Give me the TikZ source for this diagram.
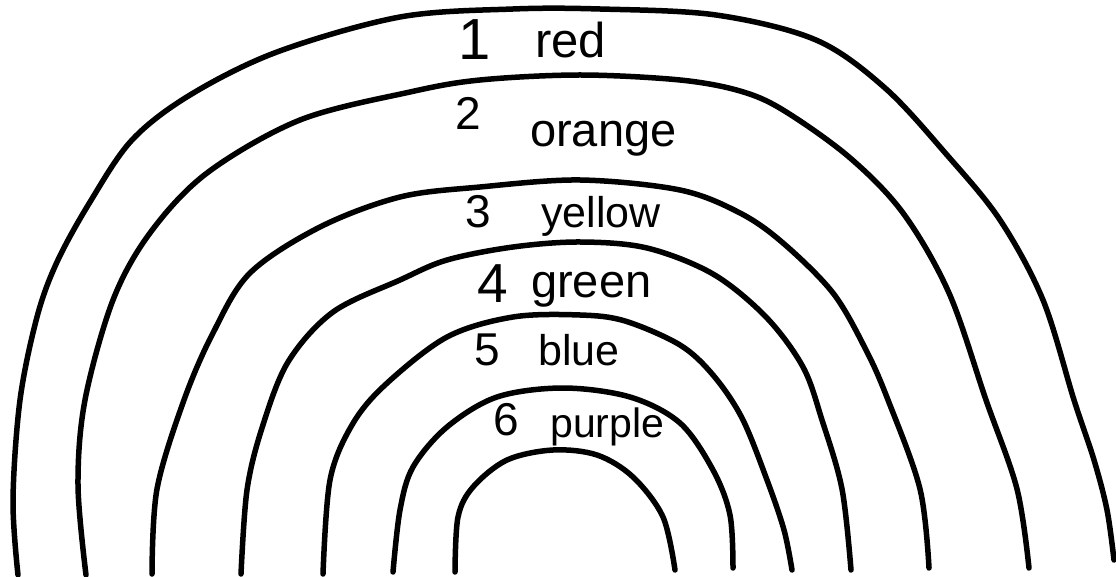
\documentclass[tikz,border=0pt]{standalone}
\usepackage{fontspec}
\setmainfont{Liberation Sans}
\begin{document}
\begin{tikzpicture}[x=1pt,y=-1pt,
  arcline/.style={line width=5.5pt, line cap=round, line join=round},
  lab/.style={anchor=base west, inner sep=0pt}]
\useasboundingbox (0,0) rectangle (1116,577);
% arc 1 (outermost)
\draw[arcline] plot[smooth, tension=0.55] coordinates {(18,575) (13,500) (20,400) (37,317) (57,262) (90,202) (132,140) (190,95) (277,52) (400,17) (513,9) (600,9) (716,15) (816,40) (885,88) (947,155) (1000,220) (1043,300) (1074,400) (1094,460) (1107,510) (1114,560)};
% arc 2
\draw[arcline] plot[smooth, tension=0.55] coordinates {(86,575) (78,485) (85,400) (113,300) (150,233) (207,173) (300,120) (410,92) (480,80) (580,75) (680,80) (740,91) (783,110) (849,157) (903,213) (949,293) (986,400) (1017,489) (1029,568)};
% arc 3
\draw[arcline] plot[smooth, tension=0.55] coordinates {(152,574) (157,489) (184,400) (213,333) (250,273) (320,227) (400,197) (480,187) (580,180) (680,190) (740,213) (783,243) (833,293) (866,350) (888,400) (920,489) (929,568)};
% arc 4
\draw[arcline] plot[smooth, tension=0.55] coordinates {(241,574) (247,490) (262,428) (288,362) (333,312) (400,280) (447,260) (513,247) (580,242) (647,248) (713,274) (766,317) (803,367) (822,420) (842,489) (851,570)};
% arc 5
\draw[arcline] plot[smooth, tension=0.55] coordinates {(323,574) (330,480) (352,425) (385,385) (447,337) (513,317) (580,315) (625,321) (680,345) (713,375) (742,418) (767,480) (784,530) (792,570)};
% arc 6
\draw[arcline] plot[smooth, tension=0.55] coordinates {(393,572) (400,510) (413,467) (447,427) (497,397) (563,388) (630,397) (680,423) (713,470) (730,515) (733,568)};
% arc 7 (innermost)
\draw[arcline] plot[smooth, tension=0.55] coordinates {(455,572) (458,517) (473,487) (507,460) (553,450) (597,455) (633,477) (663,517) (675,570)};
% labels
\node[lab, font=\fontsize{58}{60}\selectfont] (n1) at (458,60) {1};
\node[lab, font=\fontsize{49}{51}\selectfont] (c1) at (535,58) {red};
\node[lab, font=\fontsize{46}{48}\selectfont] (n2) at (455,130) {2};
\node[lab, font=\fontsize{47}{49}\selectfont] (c2) at (530,147) {orange};
\node[lab, font=\fontsize{46}{48}\selectfont] (n3) at (465,228) {3};
\node[lab, font=\fontsize{43}{45}\selectfont] (c3) at (541,228) {yellow};
\node[lab, font=\fontsize{55}{57}\selectfont] (n4) at (477,302) {4};
\node[lab, font=\fontsize{47}{49}\selectfont] (c4) at (531,298) {green};
\node[lab, font=\fontsize{46}{48}\selectfont] (n5) at (474,365) {5};
\node[lab, font=\fontsize{43}{45}\selectfont] (c5) at (538,365) {blue};
\node[lab, font=\fontsize{46}{48}\selectfont] (n6) at (493,435) {6};
\node[lab, font=\fontsize{41}{43}\selectfont] (c6) at (550,437) {purple};
\end{tikzpicture}
\end{document}
